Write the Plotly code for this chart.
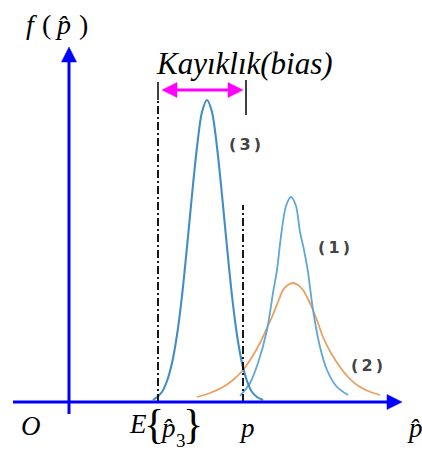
import plotly.graph_objects as go

# ---- data (x position, height above the horizontal axis) ----
curve3_x = [153, 157, 162, 167, 172, 177, 182, 187, 192, 197, 202, 207,
            212, 217, 222, 227, 232, 237, 242, 247, 252, 257, 263]
curve3_h = [2, 5, 10, 21, 39, 67, 106, 155, 207, 255, 290, 302,
            290, 255, 207, 155, 106, 67, 39, 21, 10, 5, 2]

curve1_x = [240, 250, 258, 267, 273, 277, 281, 286, 291, 296, 300, 304,
            308, 313, 320, 327, 337, 348]
curve1_h = [6, 19, 39, 72, 109, 132, 166, 196, 205, 196, 170, 152,
            130, 92, 55, 32, 15, 7]

curve2_x = [197, 210, 223, 233, 243, 252, 260, 266, 272, 278, 283, 288, 293,
            298, 303, 308, 313, 318, 323, 331, 340, 348, 357, 368, 380]
curve2_h = [5, 9, 15, 22, 32, 45, 59, 72, 85, 100, 112, 117, 119,
            117, 112, 103, 92, 79, 65, 49, 35, 25, 17, 11, 7]

E_P3 = 158          # position of E{p̂3}
P_TRUE = 243        # position of p
BIAS_ARROW = [162, 243]
BIAS_LEVEL = 312
ORIGIN_X = 69
X_AXIS_END = 402
Y_AXIS_END = 355

curve_labels = ["(\u20093\u2009)", "(\u20091\u2009)", "(\u20092\u2009)"]
curve_label_pos = [(245, 258), (334, 155), (367, 37)]

BLUE = "#0000ff"
MAGENTA = "#ff00ff"
SERIF = "Liberation Serif"

fig = go.Figure()


def line(xs, ys, color, width, dash=None, shape="linear"):
    fig.add_trace(go.Scatter(x=xs, y=ys, mode="lines", hoverinfo="skip",
                             line=dict(color=color, width=width, dash=dash,
                                       shape=shape, smoothing=0.8)))


def head(tx, ty, direction, color, length=15, half=7.5):
    if direction == "right":
        xs = [tx - length, tx, tx - length, tx - length]
        ys = [ty + half, ty, ty - half, ty + half]
    elif direction == "left":
        xs = [tx + length, tx, tx + length, tx + length]
        ys = [ty + half, ty, ty - half, ty + half]
    else:  # up
        xs = [tx - half, tx, tx + half, tx - half]
        ys = [ty - length, ty, ty - length, ty - length]
    fig.add_trace(go.Scatter(x=xs, y=ys, mode="lines", fill="toself",
                             fillcolor=color, line=dict(color=color, width=0.5),
                             hoverinfo="skip"))


# curves
line(curve2_x, curve2_h, "#eaa062", 1.8, shape="spline")
line(curve1_x, curve1_h, "#62a6d6", 1.8, shape="spline")
line(curve3_x, curve3_h, "#428dc6", 2.1, shape="spline")

# dash-dot reference lines
DD = "8px,3px,2px,3px"
line([E_P3, E_P3], [0, 302], "black", 1.8, dash=DD)
line([E_P3, E_P3], [302, 320], "black", 1.5)
line([P_TRUE, P_TRUE], [0, 197], "black", 1.8, dash=DD)
line([P_TRUE + 3, P_TRUE + 3], [287, 322], "black", 1.5)

# bias arrow
line([BIAS_ARROW[0] + 10, BIAS_ARROW[1] - 10], [BIAS_LEVEL, BIAS_LEVEL], MAGENTA, 3)
head(BIAS_ARROW[0], BIAS_LEVEL, "left", MAGENTA)
head(BIAS_ARROW[1], BIAS_LEVEL, "right", MAGENTA)

# axes
line([13, X_AXIS_END - 12], [0, 0], BLUE, 3)
line([ORIGIN_X, ORIGIN_X], [-12, Y_AXIS_END - 12], BLUE, 3)
head(X_AXIS_END, 0, "right", BLUE)
head(ORIGIN_X, Y_AXIS_END, "up", BLUE)


def label(x, y, text, size, family=SERIF, color="black"):
    fig.add_annotation(x=x, y=y, xref="x", yref="y", text=text, showarrow=False,
                       xanchor="center", yanchor="middle",
                       font=dict(family=family, size=size, color=color))


# f(p̂) glyph by glyph (math spacing)
label(31, 378, "<i>f</i>", 28)
label(46, 378, "(", 28)
label(63, 378, "<i>p\u0302</i>", 28)
label(83, 378, ")", 28)

label(244, 339, "<i>Kayıklık(bias)</i>", 31)
for t, (x, y) in zip(curve_labels, curve_label_pos):
    label(x, y, "<b>" + t + "</b>", 16, family="DejaVu Sans", color="#444444")

label(31, -24, "<i>O</i>", 27)
# E{p̂3}
label(138, -22, "<i>E</i>", 27)
label(154, -22, "{", 42)
label(168, -26, "<i>p\u0302</i>", 27)
label(181, -38, "3", 19)
label(193, -22, "}", 42)
label(P_TRUE + 4, -26, "<i>p</i>", 27)
label(415, -26, "<i>p\u0302</i>", 27)

fig.update_layout(
    width=422, height=452, margin=dict(l=0, r=0, t=0, b=0),
    paper_bgcolor="white", plot_bgcolor="white", showlegend=False,
    xaxis=dict(visible=False, range=[0, 422], fixedrange=True),
    yaxis=dict(visible=False, range=[-50, 402], fixedrange=True),
)

fig.write_html("out.html", config={"displayModeBar": False},
               post_script="document.body.style.margin='0';")
